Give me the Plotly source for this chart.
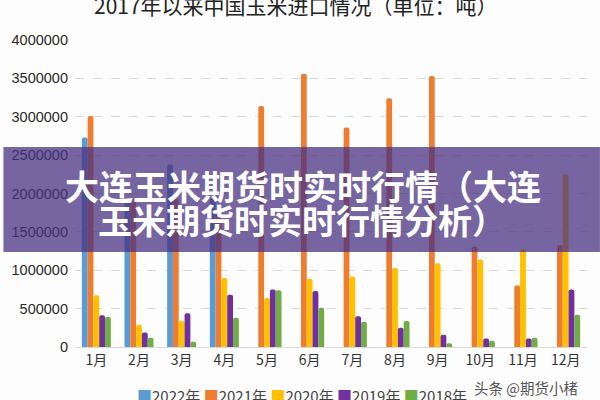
import plotly.graph_objects as go

months = ["1月", "2月", "3月", "4月", "5月", "6月", "7月", "8月", "9月", "10月", "11月", "12月"]
series_names = ["2022年", "2021年", "2020年", "2019年", "2018年"]
y2022 = [2730000, 1920000, 2380000, 1940000, None, None, None, None, None, None, None, None]
y2021 = [3010000, 1900000, 1930000, 1740000, 3140000, 3560000, 2860000, 3240000, 3530000, 1310000, 800000, 1330000]
y2020 = [675000, 290000, 340000, 900000, 640000, 890000, 920000, 1030000, 1090000, 1140000, 1270000, 2250000]
y2019 = [415000, 190000, 440000, 680000, 750000, 730000, 400000, 250000, 160000, 110000, 110000, 750000]
y2018 = [390000, 120000, 70000, 380000, 740000, 510000, 330000, 340000, 50000, 80000, 120000, 420000]
colors = ["#5B9BD5", "#ED7D31", "#FFC000", "#7030A0", "#70AD47"]
title_text = "2017年以来中国玉米进口情况（单位：吨）"
banner_line1 = "大连玉米期货时实时行情（大连"
banner_line2 = "玉米期货时实时行情分析）"
watermark = "头条 @期货小楮"

W, H = 600, 400
L, R, T, B = 72, 13, 40, 53
pw, ph = W - L - R, H - T - B

def px_x(p):
    return (p - L) / pw

def px_y(p):
    return (H - B - p) / ph

fig = go.Figure()
for name, vals, c in zip(series_names, [y2022, y2021, y2020, y2019, y2018], colors):
    fig.add_trace(go.Bar(x=months, y=vals, name=name, marker_color=c, marker_line_width=0))

font_family = "Noto Sans CJK SC, Liberation Sans, sans-serif"

fig.update_layout(
    width=W, height=H,
    margin=dict(l=L, r=R, t=T, b=B),
    paper_bgcolor="#FDFDFD", plot_bgcolor="#FDFDFD",
    barmode="group", bargap=0.32, bargroupgap=0.0, barcornerradius=2,
    showlegend=False,
    font=dict(family=font_family, color="#333333"),
    xaxis=dict(type="category", showgrid=False, showline=True, linecolor="#D9D9D9",
               linewidth=1, ticks="", tickfont=dict(size=14, color="#333333")),
    yaxis=dict(range=[0, 4000000], tickvals=[0, 500000, 1000000, 1500000, 2000000, 2500000, 3000000, 3500000, 4000000],
               ticktext=["0", "500000", "1000000", "1500000", "2000000", "2500000", "3000000", "3500000", "4000000"],
               showgrid=True, gridcolor="#D9D9D9", griddash="dash", gridwidth=1,
               zeroline=True, zerolinecolor="#D9D9D9", zerolinewidth=1,
               tickfont=dict(size=14.5, color="#2a2a2a", family="Liberation Sans, Arial, sans-serif"),
               ticklabelstandoff=6),
)

# Title (partially cut at top)
fig.add_annotation(text=title_text, xref="paper", yref="paper", x=px_x(294), y=px_y(5),
                   xanchor="center", yanchor="middle", showarrow=False,
                   font=dict(size=21, color="#222222", family=font_family))

# Legend drawn as text
legend_html = " ".join(f'<span style="color:{c}">■</span>{n}' for n, c in zip(series_names, colors))
fig.add_annotation(text=legend_html, xref="paper", yref="paper", x=px_x(300), y=px_y(395),
                   xanchor="center", yanchor="middle", showarrow=False,
                   font=dict(size=15, color="#444444", family=font_family))

# Watermark
fig.add_annotation(text=watermark, xref="paper", yref="paper", x=px_x(580), y=px_y(387),
                   xanchor="right", yanchor="middle", showarrow=False,
                   font=dict(size=14.5, color="#555555", family=font_family))

# Banner overlay
fig.add_shape(type="rect", xref="paper", yref="paper", x0=px_x(0), x1=px_x(600),
              y0=px_y(252), y1=px_y(147), fillcolor="rgba(72,50,130,0.75)",
              line=dict(width=0), layer="above")
fig.add_annotation(text=f"<b>{banner_line1}</b>", xref="paper", yref="paper", x=px_x(301), y=px_y(185),
                   xanchor="center", yanchor="middle", showarrow=False,
                   font=dict(size=34, color="white", family=font_family))
fig.add_annotation(text=f"<b>{banner_line2}</b>", xref="paper", yref="paper", x=px_x(300), y=px_y(219),
                   xanchor="center", yanchor="middle", showarrow=False,
                   font=dict(size=34, color="white", family=font_family))

fig.write_html("out.html")
